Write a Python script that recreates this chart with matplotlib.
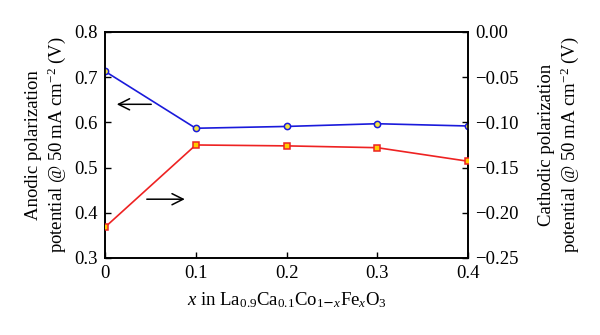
import matplotlib.pyplot as plt

plt.rcParams['font.family'] = 'Liberation Serif'
plt.rcParams['mathtext.fontset'] = 'custom'
plt.rcParams['mathtext.rm'] = 'Liberation Serif'
plt.rcParams['mathtext.it'] = 'Liberation Serif:italic'

# Composition x in La0.9Ca0.1Co(1-x)FexO3
x = [0, 0.1, 0.2, 0.3, 0.4]
anodic = [0.713, 0.587, 0.591, 0.597, 0.592]
cathodic = [-0.216, -0.125, -0.126, -0.128, -0.143]

fig = plt.figure(figsize=(6, 3.35), dpi=100)
ax = fig.add_axes([0.175, 0.23, 0.605, 0.6745])
ax2 = ax.twinx()

ax.plot(x, anodic, color='#1a1adb', lw=1.2, marker='o', ms=4.5,
        mfc='#f5e642', mec='#1a1adb', mew=1.1, zorder=3)
ax2.plot(x, cathodic, color='#ee2222', lw=1.2, marker='s', ms=5,
         mfc='#ffcc00', mec='#ee2222', mew=1.1, zorder=3)

ax.set_xlim(0, 0.4)
ax.set_ylim(0.3, 0.8)
ax2.set_ylim(-0.25, 0.0)
ax.set_xticks([0, 0.1, 0.2, 0.3, 0.4])
ax.set_xticklabels(['0', '0.1', '0.2', '0.3', '0.4'])
ax.set_yticks([0.3, 0.4, 0.5, 0.6, 0.7, 0.8])
ax2.set_yticks([-0.25, -0.20, -0.15, -0.10, -0.05, 0.00])
ax2.set_yticklabels(['\u22120.25', '\u22120.20', '\u22120.15', '\u22120.10', '\u22120.05', '0.00'])

fs = 13.5
for a in (ax, ax2):
    a.tick_params(direction='in', length=4, width=1, labelsize=fs, pad=5)
    for s in a.spines.values():
        s.set_linewidth(1.2)
ax.tick_params(axis='y', right=False)

ax.set_xlabel(r'$x$ in La$_{0.9}$Ca$_{0.1}$Co$_{1\mathsf{-}x}$Fe$_x$O$_3$', fontsize=fs, labelpad=6)
ax.set_ylabel('Anodic polarization\npotential @ 50\u2009mA cm$^{-2}$ (V)', fontsize=fs, labelpad=5)
ax2.set_ylabel('Cathodic polarization\npotential @ 50\u2009mA cm$^{-2}$ (V)', fontsize=fs,
               rotation=90, labelpad=14)

ax.annotate('', xy=(0.0099, 0.64), xytext=(0.054, 0.64),
            arrowprops=dict(arrowstyle='->', color='black', lw=1.1, mutation_scale=20))
ax.annotate('', xy=(0.091, 0.43), xytext=(0.043, 0.43),
            arrowprops=dict(arrowstyle='->', color='black', lw=1.1, mutation_scale=20))

fig.savefig('out.png', dpi=100)
